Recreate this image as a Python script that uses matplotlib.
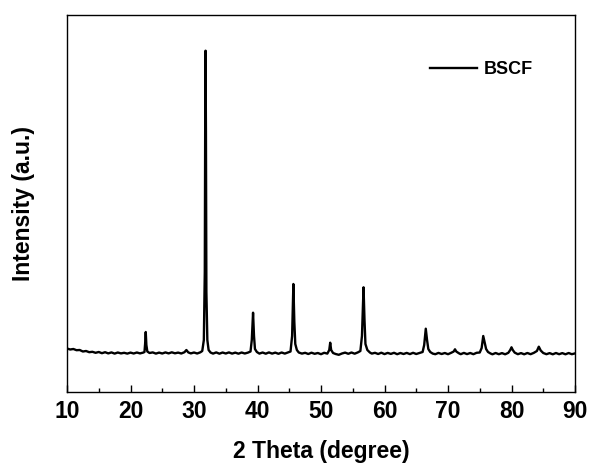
import matplotlib
matplotlib.use("Agg")
import matplotlib.pyplot as plt
from matplotlib.ticker import MultipleLocator

# XRD pattern (2-theta in degrees, intensity a.u.)
two_theta = [
    10.0, 10.5, 11.0, 11.5, 12.0, 12.5, 13.0, 13.5, 14.0, 14.5, 15.0, 15.5, 16.0, 16.5,
    17.0, 17.5, 18.0, 18.5, 19.0, 19.5, 20.0, 20.5, 21.0, 21.5, 22.0,
    22.2, 22.3, 22.4, 22.5, 22.65,
    23.0, 23.5, 24.0, 24.5, 25.0, 25.5, 26.0, 26.5, 27.0, 27.5, 28.0, 28.5, 28.8, 29.1,
    29.5, 30.0, 30.5, 31.0, 31.3,
    31.55, 31.7, 31.76, 31.82, 31.88, 31.95, 32.1, 32.3, 32.6,
    33.0, 33.5, 34.0, 34.5, 35.0, 35.5, 36.0, 36.5, 37.0, 37.5, 38.0, 38.5, 38.9,
    39.1, 39.3, 39.45, 39.6, 39.9, 40.3, 40.8, 41.3, 41.8, 42.3, 42.8, 43.3, 43.8, 44.3,
    44.8, 45.2,
    45.45, 45.65, 45.8, 45.95, 46.2, 46.5, 47.0, 47.5, 48.0, 48.5, 49.0, 49.5, 50.0,
    50.5, 51.0, 51.3, 51.45, 51.6, 51.9,
    52.3, 52.8, 53.3, 53.8, 54.3, 54.8, 55.3, 55.8, 56.2, 56.45, 56.7, 56.85, 57.0,
    57.3, 57.7,
    58.0, 58.5, 59.0, 59.5, 60.0, 60.5, 61.0, 61.5, 62.0, 62.5, 63.0, 63.5, 64.0, 64.5,
    65.0, 65.5, 66.0,
    66.25, 66.5, 66.7, 66.9, 67.2, 67.6, 68.0, 68.5, 69.0, 69.5, 70.0, 70.5, 70.9,
    71.1, 71.3, 71.7,
    72.0, 72.5, 73.0, 73.5, 74.0, 74.5, 75.0, 75.3, 75.55, 75.75, 76.0, 76.3, 76.7,
    77.0, 77.5, 78.0, 78.5, 79.0, 79.5, 79.8, 80.0, 80.2, 80.5, 81.0, 81.5, 82.0, 82.5,
    83.0, 83.5, 84.0, 84.3, 84.6, 85.0, 85.5, 86.0, 86.5, 87.0, 87.5, 88.0, 88.5, 89.0,
    89.5, 90.0,
]
intensity = [
    435, 425, 430, 418, 420, 405, 410, 398, 402, 392, 400, 388, 398, 386,
    396, 384, 395, 386, 392, 384, 394, 385, 395, 386, 394,
    400, 480, 600, 470, 405,
    390, 396, 384, 394, 385, 396, 386, 397, 387, 394, 385, 398, 420, 396,
    386, 395, 385, 397, 410,
    520, 1200, 2600, 3413, 2600, 1000, 520, 420, 395,
    384, 396, 383, 395, 385, 396, 384, 394, 383, 395, 385, 394, 405,
    520, 793, 560, 430, 400, 384, 395, 383, 396, 384, 394, 382, 395, 384,
    396, 405,
    560, 1080, 700, 480, 420, 395, 384, 392, 380, 393, 382, 390, 378,
    392, 384, 420, 493, 420, 390,
    380, 372, 385, 394, 382, 395, 383, 396, 410, 560, 1047, 720, 480,
    420, 395,
    384, 392, 380, 393, 379, 391, 381, 392, 378, 390, 380, 391, 379, 392,
    380, 390, 400,
    470, 633, 520, 430, 400, 384, 378, 391, 380, 390, 378, 392, 405,
    427, 405, 388,
    378, 391, 379, 390, 378, 392, 395, 440, 560, 500, 430, 400, 385,
    377, 390, 378, 389, 377, 392, 420, 447, 420, 394, 378, 389, 377, 390,
    378, 391, 410, 453, 415, 390, 378, 389, 377, 390, 378, 389, 377, 390,
    378, 386,
]

x_ticks = [10, 20, 30, 40, 50, 60, 70, 80, 90]
series_label = "BSCF"

plt.rcParams["font.family"] = ["Liberation Sans", "DejaVu Sans"]
plt.rcParams["font.weight"] = "bold"

fig = plt.figure(figsize=(5.91, 4.66), dpi=100)
ax = fig.add_axes([67 / 591, 1 - 392 / 466, (575 - 67) / 591, (392 - 15) / 466])

ax.plot(two_theta, intensity, color="black", linewidth=1.7, label=series_label)

ax.set_xlim(10, 90)
ax.set_ylim(0, 3770)
ax.set_xticks(x_ticks)
ax.xaxis.set_minor_locator(MultipleLocator(5))
ax.set_yticks([])
ax.tick_params(axis="x", which="major", direction="in", length=5, width=1,
               labelsize=16.5, pad=6, top=False)
ax.tick_params(axis="x", which="minor", direction="in", length=3, width=1, top=False)
for lbl in ax.get_xticklabels():
    lbl.set_fontweight("bold")
for s in ax.spines.values():
    s.set_linewidth(1.0)

ax.set_xlabel("2 Theta (degree)", fontsize=16.5, fontweight="bold", labelpad=12)
ax.set_ylabel("Intensity (a.u.)", fontsize=16.5, fontweight="bold", labelpad=23)

leg = ax.legend(loc="upper right", bbox_to_anchor=(0.95, 0.92), frameon=False,
                fontsize=13, handlelength=2.6, handletextpad=0.4)
for t in leg.get_texts():
    t.set_fontweight("bold")

fig.savefig("out.png", dpi=100)
